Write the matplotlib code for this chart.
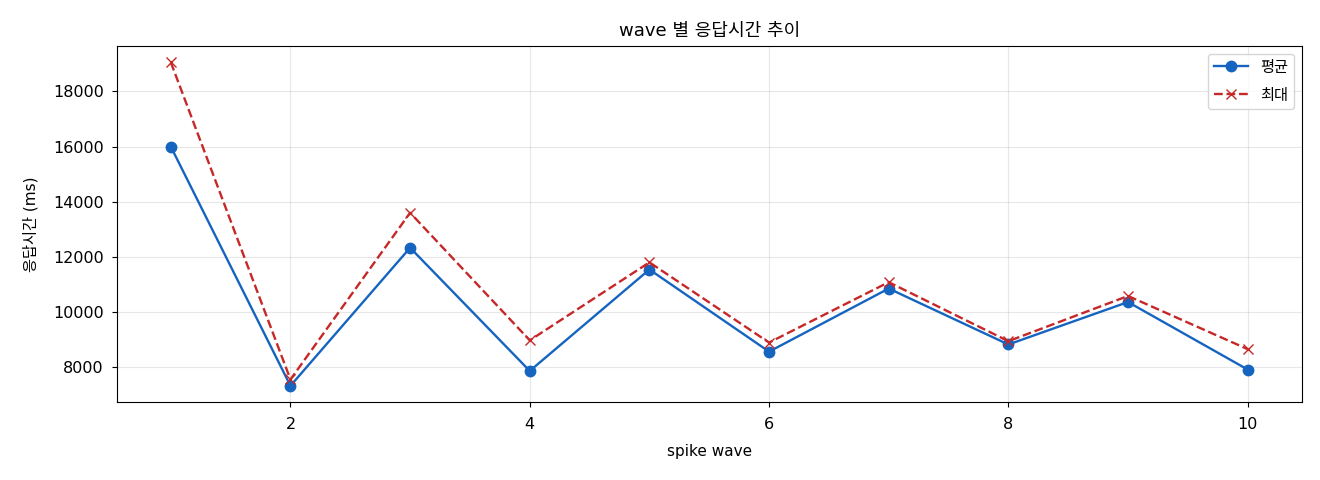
import matplotlib
matplotlib.use("Agg")
import matplotlib.pyplot as plt

plt.rcParams['font.family'] = ['DejaVu Sans', 'Noto Sans CJK KR']
plt.rcParams['axes.unicode_minus'] = False

waves = [1, 2, 3, 4, 5, 6, 7, 8, 9, 10]
mean_ms = [16000, 7320, 12330, 7860, 11540, 8560, 10850, 8820, 10360, 7910]
max_ms = [19060, 7550, 13600, 8970, 11800, 8890, 11080, 8940, 10580, 8650]

fig, ax = plt.subplots(figsize=(13.2, 4.8), dpi=100)
ax.plot(waves, mean_ms, marker='o', color='#1565C0', linewidth=1.7, markersize=7.5, label='평균')
ax.plot(waves, max_ms, marker='x', linestyle='--', color='#C62828', linewidth=1.7, markersize=7, label='최대')
ax.set_title('wave 별 응답시간 추이', fontsize=13, pad=7)
ax.set_xlabel('spike wave', fontsize=11, labelpad=9)
ax.set_ylabel('응답시간 (ms)', fontsize=11, labelpad=10)
ax.grid(True, alpha=0.3)
ax.legend(loc='upper right', fontsize=11, labelspacing=0.85, handlelength=2.2)
ax.tick_params(axis='x', labelsize=11.5, pad=7)
ax.tick_params(axis='y', labelsize=11.5, pad=6)
fig.subplots_adjust(left=0.0886, right=0.986, top=0.904, bottom=0.1625)
fig.savefig('out.png', dpi=100)
